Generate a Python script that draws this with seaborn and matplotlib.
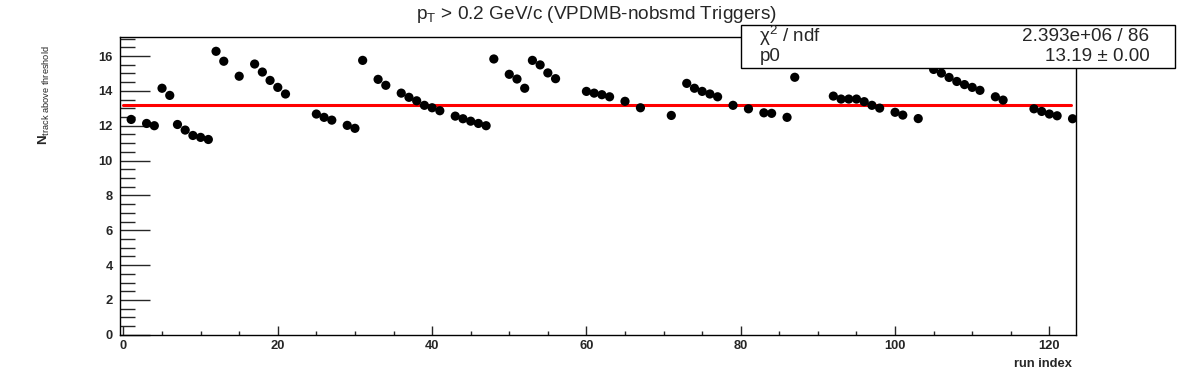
"""
Track multiplicity per run, with a flat fit (ROOT-style look).
"""

import matplotlib
matplotlib.use("Agg")
import matplotlib.pyplot as plt
from matplotlib.patches import Rectangle
from matplotlib.ticker import MultipleLocator
import pandas as pd
import seaborn as sns

# run index and mean number of tracks above threshold
run_index = [
    1, 3, 4, 5, 6, 7, 8, 9, 10, 11, 12, 13, 15, 17, 18, 19, 20, 21,
    25, 26, 27, 29, 30, 31, 33, 34, 36, 37, 38, 39, 40, 41, 43, 44, 45, 46, 47, 48,
    50, 51, 52, 53, 54, 55, 56,
    60, 61, 62, 63, 65, 67, 71,
    73, 74, 75, 76, 77, 79, 81, 83, 84, 86, 87,
    92, 93, 94, 95, 96, 97, 98,
    100, 101, 103,
    105, 106, 107, 108, 109, 110, 111,
    113, 114,
    118, 119, 120, 121, 123,
]
n_tracks = [
    12.36, 12.13, 12.00, 14.15, 13.74, 12.07, 11.75, 11.44, 11.33, 11.21, 16.27, 15.70,
    14.84, 15.54, 15.08, 14.60, 14.20, 13.82,
    12.67, 12.48, 12.32, 12.02, 11.85, 15.75, 14.66, 14.32, 13.87, 13.63, 13.43, 13.17,
    13.03, 12.86, 12.55, 12.40, 12.26, 12.13, 12.00, 15.83,
    14.95, 14.68, 14.15, 15.75, 15.49, 15.03, 14.70,
    13.97, 13.87, 13.78, 13.66, 13.40, 13.03, 12.59,
    14.43, 14.15, 13.97, 13.82, 13.66, 13.17, 12.97, 12.74, 12.71, 12.48, 14.78,
    13.70, 13.53, 13.53, 13.53, 13.38, 13.17, 13.01,
    12.77, 12.61, 12.41,
    15.23, 15.02, 14.77, 14.54, 14.36, 14.20, 14.03,
    13.66, 13.47,
    12.97, 12.82, 12.67, 12.57, 12.40,
]

# fit result (pol0)
p0 = 13.19
fit_range = [0, 122.8]
chi2_text = "2.393e+06 / 86"
p0_text = "13.19 \u00b1 0.00"

df = pd.DataFrame({"run": run_index, "ntrk": n_tracks})

sns.set_style("ticks")
plt.rcParams["font.family"] = ["Liberation Sans", "DejaVu Sans"]
plt.rcParams["mathtext.fontset"] = "custom"
plt.rcParams["mathtext.rm"] = "Liberation Sans"
plt.rcParams["mathtext.it"] = "Liberation Sans:italic"
plt.rcParams["mathtext.bf"] = "Liberation Sans:bold"
plt.rcParams["mathtext.default"] = "regular"

fig = plt.figure(figsize=(11.96, 3.72), dpi=100)
ax = fig.add_axes([0.1, 0.1, 0.8, 0.8])

sns.scatterplot(data=df, x="run", y="ntrk", ax=ax, color="black",
                s=44, edgecolor="none", zorder=3)
ax.plot(fit_range, [p0, p0], color="red", lw=2.2, zorder=2)

ax.set_xlim(-0.5, 123.5)
ax.set_ylim(0, 17.08)
ax.xaxis.set_major_locator(MultipleLocator(20))
ax.xaxis.set_minor_locator(MultipleLocator(5))
ax.yaxis.set_major_locator(MultipleLocator(2))
ax.yaxis.set_minor_locator(MultipleLocator(0.5))

ax.tick_params(axis="x", which="major", direction="in", length=6.7, width=1,
               labelsize=9.3, pad=4)
ax.tick_params(axis="x", which="minor", direction="in", length=3.1, width=1)
ax.tick_params(axis="y", which="major", direction="in", length=21.6, width=1,
               labelsize=9.3, pad=5)
ax.tick_params(axis="y", which="minor", direction="in", length=10.8, width=1)
for lab in ax.get_xticklabels() + ax.get_yticklabels():
    lab.set_fontweight("bold")
for sp in ax.spines.values():
    sp.set_linewidth(1)
    sp.set_color("black")

ax.set_xlabel("")
ax.set_ylabel("")
fig.text(0.896, 0.021, "run index", ha="right", va="center",
         fontsize=9.3, fontweight="bold")
fig.text(0.037, 0.745, r"$\mathbf{N}_{track\ above\ threshold}$", rotation=90,
         ha="center", va="center", fontsize=9.5)

fig.text(0.499, 0.960, r"$p_{T}$ > 0.2 GeV/c (VPDMB-nobsmd Triggers)",
         ha="center", va="center", fontsize=13.7)

# stats box
box = Rectangle((0.6196, 0.8172), 0.3628, 0.1156, transform=fig.transFigure,
                facecolor="white", edgecolor="black", lw=1, zorder=5)
fig.add_artist(box)
fig.text(0.635, 0.903, r"$\chi^{2}$ / ndf", ha="left", va="center", fontsize=13.6, zorder=6)
fig.text(0.635, 0.847, "p0", ha="left", va="center", fontsize=13.6, zorder=6)
fig.text(0.961, 0.903, chi2_text, ha="right", va="center", fontsize=13.6, zorder=6)
fig.text(0.961, 0.847, p0_text, ha="right", va="center", fontsize=13.6, zorder=6)

fig.savefig("out.png", dpi=100)
